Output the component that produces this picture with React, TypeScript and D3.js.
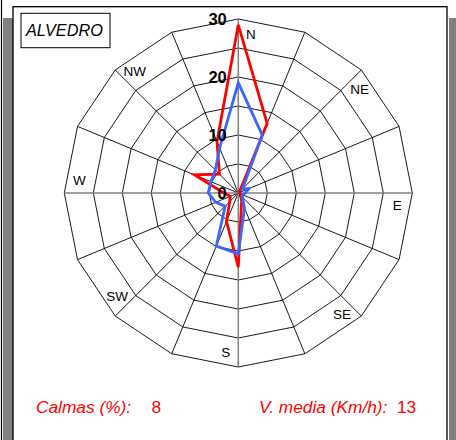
import { useEffect, useRef } from "react";
import * as d3 from "d3";

// 16 wind directions, clockwise from north
const directions = ["N", "NNE", "NE", "ENE", "E", "ESE", "SE", "SSE", "S", "SSW", "SW", "WSW", "W", "WNW", "NW", "NNW"];
const compassLabels = ["N", "NE", "E", "SE", "S", "SW", "W", "NW"];

// values
const seriesRed = [29, 13, 0.3, 0.3, 0.3, 0.4, 0.6, 1.5, 12.8, 5.3, 2.1, 1.5, 2.5, 8.2, 4.6, 9.6];
const seriesBlue = [19, 10.8, 1.0, 2.0, 1.2, 0.8, 1.0, 2.8, 10.5, 9.9, 3.2, 4.2, 5.2, 5.1, 5.6, 8.4];

const ringValues = [5, 10, 15, 20, 25, 30];
const tickValues = [0, 10, 20, 30];

const stationName = "ALVEDRO";
const calmLabel = "Calmas (%):";
const calmValue = "8";
const speedLabel = "V. media (Km/h):";
const speedValue = "13";

export default function App() {
  const svgRef = useRef<SVGSVGElement>(null);

  useEffect(() => {
    if (!svgRef.current) return;
    const svg = d3.select(svgRef.current);
    svg.selectAll("*").remove();

    const width = 456;
    const height = 440;
    const cx = 238.3;
    const cy = 193;
    const font = "'Liberation Sans', Arial, Helvetica, sans-serif";

    // frame / panel look
    svg.append("rect").attr("width", width).attr("height", height).attr("fill", "#fff");
    svg.append("rect").attr("x", 3).attr("y", 18).attr("width", 10).attr("height", height).attr("fill", "#808080");
    svg.append("rect").attr("x", 449).attr("y", 18).attr("width", 7).attr("height", height).attr("fill", "#808080");
    svg.append("line").attr("x1", 1.5).attr("x2", 1.5).attr("y1", 0).attr("y2", height)
      .attr("stroke", "#000").attr("stroke-width", 1.2);
    svg.append("rect").attr("x", 13).attr("y", 6.7).attr("width", 434).attr("height", height)
      .attr("fill", "#fff").attr("stroke", "#000").attr("stroke-width", 1.3);

    const r = d3.scaleLinear().domain([0, 30]).range([0, 174]);
    const angle = d3.scaleLinear().domain([0, directions.length]).range([0, 2 * Math.PI]);

    const g = svg.append("g").attr("transform", `translate(${cx},${cy})`);

    // polygon rings
    const ringLine = d3.lineRadial<string>()
      .angle((_, i) => angle(i))
      .curve(d3.curveLinearClosed);
    ringValues.forEach((v) => {
      g.append("path")
        .attr("d", ringLine.radius(r(v))(directions))
        .attr("fill", "none")
        .attr("stroke", "#000")
        .attr("stroke-width", 0.9);
    });

    // radial spokes
    directions.forEach((d, i) => {
      if (i % 4 === 0) return;
      const a = angle(i);
      g.append("line")
        .attr("x1", 0).attr("y1", 0)
        .attr("x2", r(30) * Math.sin(a))
        .attr("y2", -r(30) * Math.cos(a))
        .attr("stroke", "#000")
        .attr("stroke-width", 0.9);
    });

    // main axes in gray
    g.append("line").attr("x1", 0).attr("x2", 0).attr("y1", -r(30)).attr("y2", r(30))
      .attr("stroke", "#808080").attr("stroke-width", 1.5);
    g.append("line").attr("y1", 0).attr("y2", 0).attr("x1", -r(30)).attr("x2", r(30))
      .attr("stroke", "#808080").attr("stroke-width", 1.5);

    // compass labels, a bit clockwise of each direction
    const labelOffset = (4.5 * Math.PI) / 180;
    compassLabels.forEach((lab) => {
      const a = angle(directions.indexOf(lab)) + labelOffset;
      g.append("text")
        .attr("x", r(27.5) * Math.sin(a))
        .attr("y", -r(27.5) * Math.cos(a))
        .attr("text-anchor", "middle")
        .attr("dominant-baseline", "central")
        .attr("font-family", font)
        .attr("font-size", 13.5)
        .attr("fill", "#000")
        .text(lab);
    });

    // series
    const seriesLine = d3.lineRadial<number>()
      .angle((_, i) => angle(i))
      .radius((v) => r(v))
      .curve(d3.curveLinearClosed);

    [
      { values: seriesRed, color: "#ff0000" },
      { values: seriesBlue, color: "#3a66ff" },
    ].forEach((s) => {
      g.append("path")
        .attr("d", seriesLine(s.values))
        .attr("fill", "none")
        .attr("stroke", s.color)
        .attr("stroke-width", 2.8)
        .attr("stroke-linejoin", "miter");
    });

    // radial tick labels
    tickValues.forEach((v) => {
      g.append("text")
        .attr("x", -11.5)
        .attr("y", -r(v))
        .attr("text-anchor", "end")
        .attr("dominant-baseline", "central")
        .attr("font-family", font)
        .attr("font-size", 16.5)
        .attr("font-weight", "bold")
        .attr("fill", "#000")
        .text(v);
    });

    // station box
    svg.append("rect").attr("x", 21).attr("y", 13.3).attr("width", 89).attr("height", 34.4)
      .attr("fill", "#fff").attr("stroke", "#000").attr("stroke-width", 1);
    svg.append("text").attr("x", 26).attr("y", 36)
      .attr("font-family", font).attr("font-size", 16.3).attr("font-style", "italic")
      .attr("fill", "#000").text(stationName);

    // footer
    const footer = [
      { x: 36, text: calmLabel, italic: true },
      { x: 151.5, text: calmValue, italic: false },
      { x: 259, text: speedLabel, italic: true },
      { x: 397, text: speedValue, italic: false },
    ];
    footer.forEach((f) => {
      svg.append("text")
        .attr("x", f.x)
        .attr("y", 412.7)
        .attr("font-family", font)
        .attr("font-size", 17.3)
        .attr("font-style", f.italic ? "italic" : "normal")
        .attr("fill", "#ff0000")
        .text(f.text);
    });
  }, []);

  return (
    <svg
      ref={svgRef}
      width={456}
      height={440}
      style={{ position: "absolute", left: 0, top: 0, display: "block" }}
    />
  );
}
